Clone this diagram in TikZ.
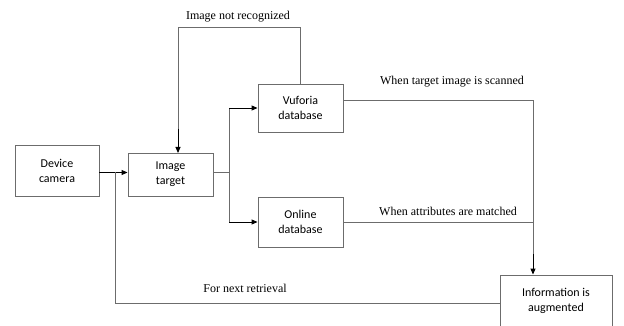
\documentclass[tikz,border=0pt]{standalone}
\usepackage{fontspec}
\setmainfont{Liberation Serif}
\newfontfamily\boxfont{Carlito}
\usetikzlibrary{arrows.meta}
\begin{document}
\begin{tikzpicture}[x=1pt,y=-1pt,
  blk/.style={draw=gray!85!black,line width=0.9pt,minimum width=85pt,align=center,font=\boxfont\fontsize{12}{15}\selectfont,inner sep=0pt},
  ln/.style={draw=gray!85!black,line width=0.9pt},
  arr/.style={draw=black,line width=0.9pt,-{Triangle[length=6pt,width=5pt]}},
  lbl/.style={font=\fontsize{12}{14}\selectfont,inner sep=0pt}]
\useasboundingbox (0,0) rectangle (624,326);
\clip (0,0) rectangle (624,326);
\fill[white] (0,0) rectangle (624,326);
\node[blk,minimum width=84pt,minimum height=51pt] (cam) at (57,170.5) {Device\\camera};
\node[blk,minimum height=43pt] (img) at (170.5,174.5) {Image\\target};
\node[blk,minimum height=48pt] (vuf) at (300.5,108) {Vuforia\\database};
\node[blk,minimum height=50pt] (onl) at (300.5,222) {Online\\database};
\node[blk,minimum width=112pt,minimum height=52pt] (info) at (556,301) {Information is\\augmented};
\coordinate (j) at (115,172.5);
\coordinate (s) at (229,172.5);
\coordinate (c) at (533,100);
\coordinate (b) at (115,303);
\coordinate (top) at (300.5,27);
\coordinate (it) at (178,153);
% camera -> image target
\draw[arr] (cam.east |- j) -- (img.west |- j);
% feedback for next retrieval
\draw[ln] (info.west |- b) -- (b) -- (j);
% image target split
\draw[ln] (img.east |- s) -- (s);
\draw[ln] (s |- vuf.west) -- (s |- onl.west);
\draw[arr] (s |- vuf.west) -- (vuf.west);
\draw[arr] (s |- onl.west) -- (onl.west);
% image not recognized loop
\draw[ln] (vuf.north) -- (top) -- (it |- top) -- (178,130);
\draw[arr] (178,129) -- (it);
% vuforia -> info
\draw[ln] (vuf.east |- c) -- (c) -- (533,255);
\draw[ln] (onl.east |- 0,222) -- (533,222);
\draw[arr] (533,254) -- (c |- info.north);
% labels
\node[lbl] (l1) at (238,17) {Image not recognized};
\node[lbl] (l2) at (452,82) {When target image is scanned};
\node[lbl] (l3) at (448,211) {When attributes are matched};
\node[lbl] (l4) at (245,288) {For next retrieval};
\end{tikzpicture}
\end{document}
